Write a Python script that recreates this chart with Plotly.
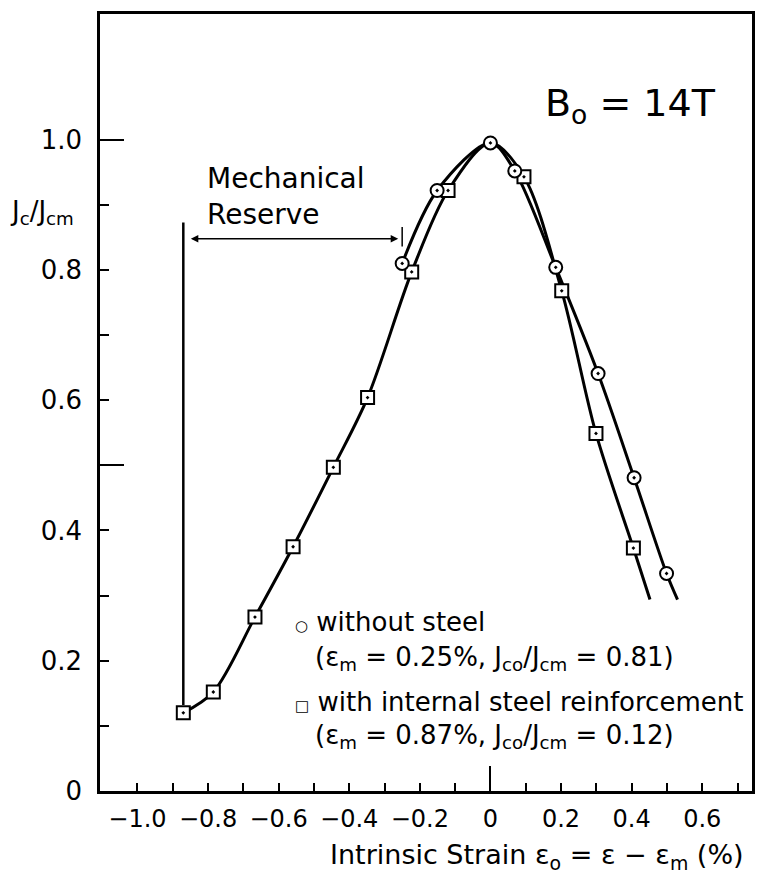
import plotly.graph_objects as go

# --- Measured points: without steel (circles) ---
plain_strain = [-0.25, -0.151, 0.0, 0.069, 0.185, 0.305, 0.407, 0.499]
plain_jc = [0.81, 0.922, 0.995, 0.952, 0.804, 0.641, 0.481, 0.334]
# hand-fitted curve runs a little past the last point
plain_tail_strain = [0.530]
plain_tail_jc = [0.294]

# --- Measured points: with internal steel reinforcement (squares) ---
steel_strain = [-0.87, -0.785, -0.667, -0.559, -0.445, -0.348, -0.223, -0.120,
                0.095, 0.202, 0.299, 0.405]
steel_jc = [0.12, 0.152, 0.267, 0.375, 0.497, 0.604, 0.797, 0.922,
            0.943, 0.768, 0.549, 0.373]
# the steel curve shares the common maximum and also runs past its last point
steel_extra_strain = [0.0, 0.452]
steel_extra_jc = [0.995, 0.294]

# pre-strain values quoted in the key
eps_m_plain = 0.25
eps_m_steel = 0.87
jco_plain = 0.81
jco_steel = 0.12

# axis ticks
x_label_vals = [-1.0, -0.8, -0.6, -0.4, -0.2, 0.0, 0.2, 0.4, 0.6]
x_label_text = ["−1.0", "−0.8", "−0.6", "−0.4", "−0.2", "0", "0.2", "0.4", "0.6"]
x_minor_vals = [-0.9, -0.7, -0.5, -0.3, -0.1, 0.1, 0.3, 0.5, 0.7]
x_long_ticks = [0.0]
y_label_vals = [0.0, 0.2, 0.4, 0.6, 0.8, 1.0]
y_label_text = ["0", "0.2", "0.4", "0.6", "0.8", "1.0"]
y_minor_vals = [0.1, 0.3, 0.5, 0.7, 0.9]
y_long_ticks = [0.5, 1.0]

X_RANGE = [-1.106, 0.741]
Y_RANGE = [0.0, 1.193]
FONT = "DejaVu Sans"
INK = "black"

# curve through each series (sorted by strain)
plain_curve = sorted(zip(plain_strain + plain_tail_strain, plain_jc + plain_tail_jc))
steel_curve = sorted(zip(steel_strain + steel_extra_strain, steel_jc + steel_extra_jc))

fig = go.Figure()

# mechanical reserve marker: vertical line from the steel point upward
fig.add_trace(go.Scatter(
    x=[-eps_m_steel, -eps_m_steel], y=[jco_steel + 0.012, 0.873],
    mode="lines", line=dict(color=INK, width=2.5), hoverinfo="skip", showlegend=False))
# short stop mark at the no-steel pre-strain
fig.add_trace(go.Scatter(
    x=[-eps_m_plain, -eps_m_plain], y=[0.836, 0.866],
    mode="lines", line=dict(color=INK, width=1.5), hoverinfo="skip", showlegend=False))

for curve in (steel_curve, plain_curve):
    fig.add_trace(go.Scatter(
        x=[p[0] for p in curve], y=[p[1] for p in curve],
        mode="lines", line=dict(color=INK, width=3, shape="spline", smoothing=0.9),
        hoverinfo="skip", showlegend=False))

fig.add_trace(go.Scatter(
    x=steel_strain, y=steel_jc, mode="markers", name="with internal steel reinforcement",
    marker=dict(symbol="square-dot", size=13, color="white", line=dict(color=INK, width=2)),
    showlegend=False))
fig.add_trace(go.Scatter(
    x=plain_strain, y=plain_jc, mode="markers", name="without steel",
    marker=dict(symbol="circle-dot", size=13, color="white", line=dict(color=INK, width=2)),
    showlegend=False))

# empty traces so the overlay axes (short and long unlabelled ticks) get drawn
for xa, ya in (("x2", "y2"), ("x3", "y3")):
    fig.add_trace(go.Scatter(x=[None], y=[None], xaxis=xa, yaxis=ya,
                             hoverinfo="skip", showlegend=False))

plain_axis = dict(showgrid=False, zeroline=False, ticks="inside", tickcolor=INK, tickwidth=2)


def tick_axis(rng, over, anchor, side, vals, length):
    return dict(range=rng, overlaying=over, anchor=anchor, side=side, tickmode="array",
                tickvals=vals, ticklen=length, showticklabels=False, showline=False,
                **plain_axis)


fig.update_layout(
    width=771, height=885,
    margin=dict(l=100, r=19, t=11, b=94),
    paper_bgcolor="white", plot_bgcolor="white",
    font=dict(family=FONT, color=INK),
    xaxis=dict(range=X_RANGE, tickmode="array", tickvals=x_label_vals, ticktext=x_label_text,
               ticklen=8, showline=True, linecolor=INK, linewidth=2.5, mirror=True,
               ticklabelstandoff=4, tickfont=dict(family=FONT, size=24, color=INK),
               **plain_axis),
    yaxis=dict(range=Y_RANGE, tickmode="array", tickvals=y_label_vals, ticktext=y_label_text,
               ticklen=9, showline=True, linecolor=INK, linewidth=2.5, mirror=True,
               ticklabelstandoff=10, tickfont=dict(family=FONT, size=26, color=INK),
               **plain_axis),
    xaxis2=tick_axis(X_RANGE, "x", "y", "bottom", x_minor_vals, 8),
    yaxis2=tick_axis(Y_RANGE, "y", "x", "left", y_minor_vals, 9),
    xaxis3=tick_axis(X_RANGE, "x", "y", "bottom", x_long_ticks, 25),
    yaxis3=tick_axis(Y_RANGE, "y", "x", "left", y_long_ticks, 24),
)

txt = dict(family=FONT, size=26, color=INK)
annotations = [
    dict(x=-0.141, xref="paper", y=0.888, yref="y", xanchor="left", yanchor="middle",
         text="J<sub>c</sub>/J<sub>cm</sub>", font=txt),
    dict(x=-0.809, y=0.913, xanchor="left", yanchor="middle", align="left",
         text="Mechanical<br>Reserve", font=dict(family=FONT, size=28, color=INK)),
    dict(x=0.398, y=1.052, xanchor="center", yanchor="middle",
         text="B<sub>o</sub> = 14T", font=dict(family=FONT, size=38, color=INK)),
    dict(x=-0.559, y=0.260, xanchor="left", yanchor="middle",
         text="<span style='font-size:15px'>○</span> without steel", font=txt),
    dict(x=-0.503, y=0.203, xanchor="left", yanchor="middle",
         text=f"(ε<sub>m</sub> = {eps_m_plain:.2f}%, J<sub>co</sub>/J<sub>cm</sub> = {jco_plain:.2f})",
         font=txt),
    dict(x=-0.559, y=0.136, xanchor="left", yanchor="middle",
         text="<span style='font-size:15px'>□</span> with internal steel reinforcement", font=txt),
    dict(x=-0.503, y=0.084, xanchor="left", yanchor="middle",
         text=f"(ε<sub>m</sub> = {eps_m_steel:.2f}%, J<sub>co</sub>/J<sub>cm</sub> = {jco_steel:.2f})",
         font=txt),
    dict(x=(328 - 100) / 652, xref="paper", y=(791 - 857) / 780, yref="paper",
         xanchor="left", yanchor="middle",
         text="Intrinsic Strain ε<sub>o</sub> = ε − ε<sub>m</sub> (%)",
         font=dict(family=FONT, size=27, color=INK)),
]
fig.add_annotation(x=-eps_m_plain, y=0.848, ax=-eps_m_steel, ay=0.848, axref="x", ayref="y",
                   showarrow=True, arrowhead=2, startarrowhead=2, arrowside="end+start",
                   arrowsize=1, arrowwidth=1.5, arrowcolor=INK, standoff=4, startstandoff=4)
for a in annotations:
    a.setdefault("showarrow", False)
    a.setdefault("xref", "x")
    a.setdefault("yref", "y")
    fig.add_annotation(**a)

fig.write_html("out.html")
